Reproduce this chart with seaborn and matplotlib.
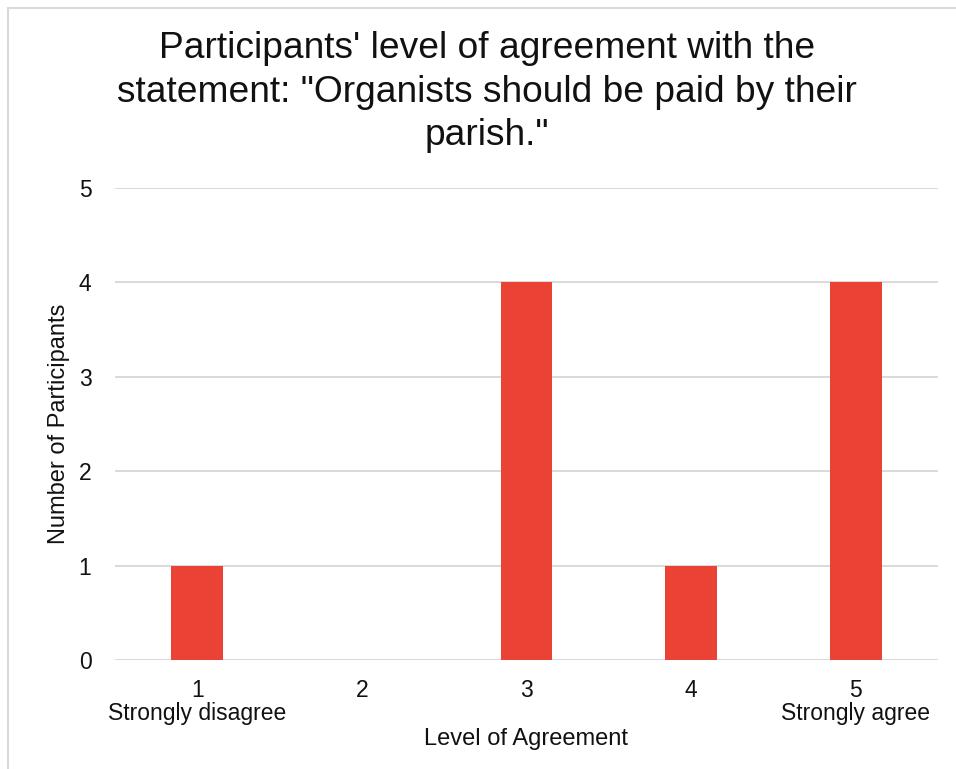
import matplotlib
matplotlib.use('Agg')
import matplotlib.pyplot as plt
import seaborn as sns
import pandas as pd
from matplotlib.lines import Line2D

# Datos
levels = ['1', '2', '3', '4', '5']
tick_labels = ['1\nStrongly disagree', '2', '3', '4', '5\nStrongly agree']
counts = [1, 0, 4, 1, 4]

df = pd.DataFrame({'Level': levels, 'Count': counts})

sns.set_theme(style='white')
plt.rcParams['font.family'] = ['Liberation Sans', 'DejaVu Sans']

fig = plt.figure(figsize=(9.56, 7.69), dpi=100)
ax = fig.add_axes([115 / 956, 1 - 660 / 769, 823 / 956, 472 / 769])

sns.barplot(data=df, x='Level', y='Count', color='#EA4335', saturation=1,
            width=0.315, linewidth=0, ax=ax, zorder=3)

ax.set_ylim(0, 5)
ax.set_yticks([0, 1, 2, 3, 4, 5])
ax.grid(axis='y', color='#D9D9D9', linewidth=1.4, zorder=0)
ax.set_axisbelow(True)
for s in ax.spines.values():
    s.set_visible(False)

ax.set_xticks(range(len(levels)))
ax.set_xticklabels(tick_labels, fontsize=16.5, color='#111111', linespacing=1.0)
ax.tick_params(axis='y', labelsize=16.5, labelcolor='#111111', length=0, pad=17)
ax.tick_params(axis='x', length=0, pad=14)

ax.set_xlabel('Level of Agreement', fontsize=17, color='#111111', labelpad=2)
ax.set_ylabel('Number of Participants', fontsize=17, color='#111111', labelpad=6)

fig.text(487 / 956, 1 - 92 / 769,
         'Participants\' level of agreement with the\nstatement: "Organists should be paid by their\nparish."',
         ha='center', va='center', fontsize=26.7, color='#111111', linespacing=1.3)

# Borde del gráfico
fig.add_artist(Line2D([7.5 / 956, 7.5 / 956], [0, 1 - 7.5 / 769], transform=fig.transFigure,
                      color='#D9D9D9', linewidth=1.5))
fig.add_artist(Line2D([7.5 / 956, 1], [1 - 7.5 / 769, 1 - 7.5 / 769], transform=fig.transFigure,
                      color='#D9D9D9', linewidth=1.5))

fig.savefig('out.png', dpi=100)
